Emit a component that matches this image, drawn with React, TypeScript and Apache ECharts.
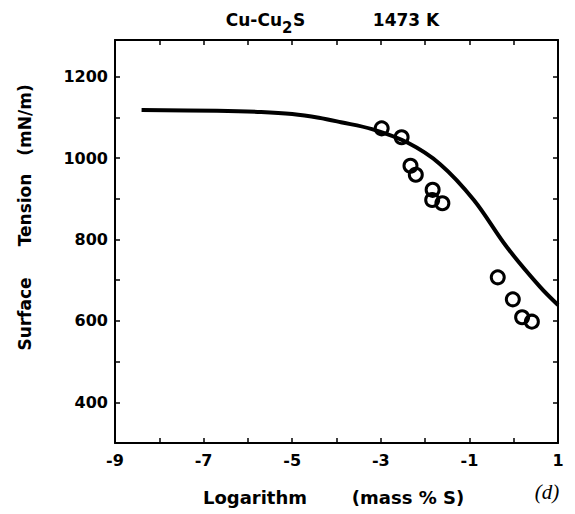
import React, { useEffect, useRef } from "react";
import * as echarts from "echarts";

const curveX = [-8.4, -6.7, -5.7, -5.0, -4.4, -3.9, -3.2, -2.4, -1.66, -0.9, -0.16, 0.59, 1.0];
const curveY = [1118, 1116, 1113, 1108, 1099, 1088, 1071, 1038, 985, 897, 782, 684, 639];
const obsX = [-2.98, -2.53, -2.33, -2.21, -1.83, -1.84, -1.61, -0.36, -0.02, 0.19, 0.41];
const obsY = [1073, 1051, 981, 959, 922, 897, 889, 707, 653, 609, 598];
const xLabels = [-9, -7, -5, -3, -1, 1];
const yLabels = [400, 600, 800, 1000, 1200];

const FONT = "DejaVu Sans";

export default function App() {
  const ref = useRef<HTMLDivElement>(null);
  useEffect(() => {
    if (!ref.current) return;
    const chart = echarts.init(ref.current, undefined, { renderer: "svg" });
    const axisLine = { show: true, onZero: false, lineStyle: { color: "#000", width: 2 } };
    const axisTick = { show: true, inside: true, length: 5, lineStyle: { color: "#000", width: 1.5 } };
    const xFmt = (v: number) => (xLabels.indexOf(Math.round(v)) >= 0 && Math.abs(v - Math.round(v)) < 1e-6 ? String(Math.round(v)) : "");
    const yFmt = (v: number) => (yLabels.indexOf(Math.round(v)) >= 0 ? String(Math.round(v)) : "");
    const txt = (text: string, x: number, y: number, extra: any = {}) => ({
      type: "text",
      x,
      y,
      silent: true,
      ...extra,
      style: {
        text,
        fill: "#000",
        font: `bold 17px "${FONT}"`,
        align: "center",
        verticalAlign: "middle",
        ...(extra.style || {}),
      },
    });
    chart.setOption({
      animation: false,
      backgroundColor: "#fff",
      grid: { left: 115, right: 17, top: 40, bottom: 71, containLabel: false },
      xAxis: [
        {
          type: "value",
          min: -9,
          max: 1,
          interval: 1,
          position: "bottom",
          axisLine,
          axisTick,
          splitLine: { show: false },
          axisLabel: { formatter: xFmt, color: "#000", fontFamily: FONT, fontWeight: "bold", fontSize: 16, margin: 9 },
        },
        {
          type: "value",
          min: -9,
          max: 1,
          interval: 1,
          position: "top",
          axisLine,
          axisTick,
          splitLine: { show: false },
          axisLabel: { show: false },
        },
      ],
      yAxis: [
        {
          type: "value",
          min: 300,
          max: 1290,
          interval: 100,
          position: "left",
          axisLine,
          axisTick,
          splitLine: { show: false },
          axisLabel: { formatter: yFmt, color: "#000", fontFamily: FONT, fontWeight: "bold", fontSize: 16, margin: 7 },
        },
        {
          type: "value",
          min: 300,
          max: 1290,
          interval: 100,
          position: "right",
          axisLine,
          axisTick,
          splitLine: { show: false },
          axisLabel: { show: false },
        },
      ],
      series: [
        {
          type: "line",
          data: curveX.map((x, i) => [x, curveY[i]]),
          smooth: 0.35,
          showSymbol: false,
          lineStyle: { color: "#000", width: 4 },
          z: 2,
        },
        {
          type: "scatter",
          data: obsX.map((x, i) => [x, obsY[i]]),
          symbol: "circle",
          symbolSize: 13,
          itemStyle: { color: "transparent", borderColor: "#000", borderWidth: 3, opacity: 1 },
          z: 3,
        },
      ],
      graphic: [
        txt("Cu-Cu", 282, 20, { style: { align: "right" } }),
        txt("2", 282, 28, { style: { align: "left", font: `bold 15px "${FONT}"` } }),
        txt("S", 293, 20, { style: { align: "left" } }),
        txt("1473 K", 406, 20),
        txt("Surface", 25, 314, { rotation: Math.PI / 2 }),
        txt("Tension", 25, 210, { rotation: Math.PI / 2 }),
        txt("(mN/m)", 25, 120, { rotation: Math.PI / 2 }),
        txt("Logarithm", 255, 497, { style: { font: `bold 18px "${FONT}"` } }),
        txt("(mass % S)", 408, 497, { style: { font: `bold 18px "${FONT}"` } }),
        txt("(d)", 547, 492, { style: { font: `italic 21px "Liberation Serif"` } }),
      ],
    });
    return () => chart.dispose();
  }, []);
  return <div ref={ref} style={{ position: "fixed", left: 0, top: 0, width: 575, height: 514 }} />;
}
